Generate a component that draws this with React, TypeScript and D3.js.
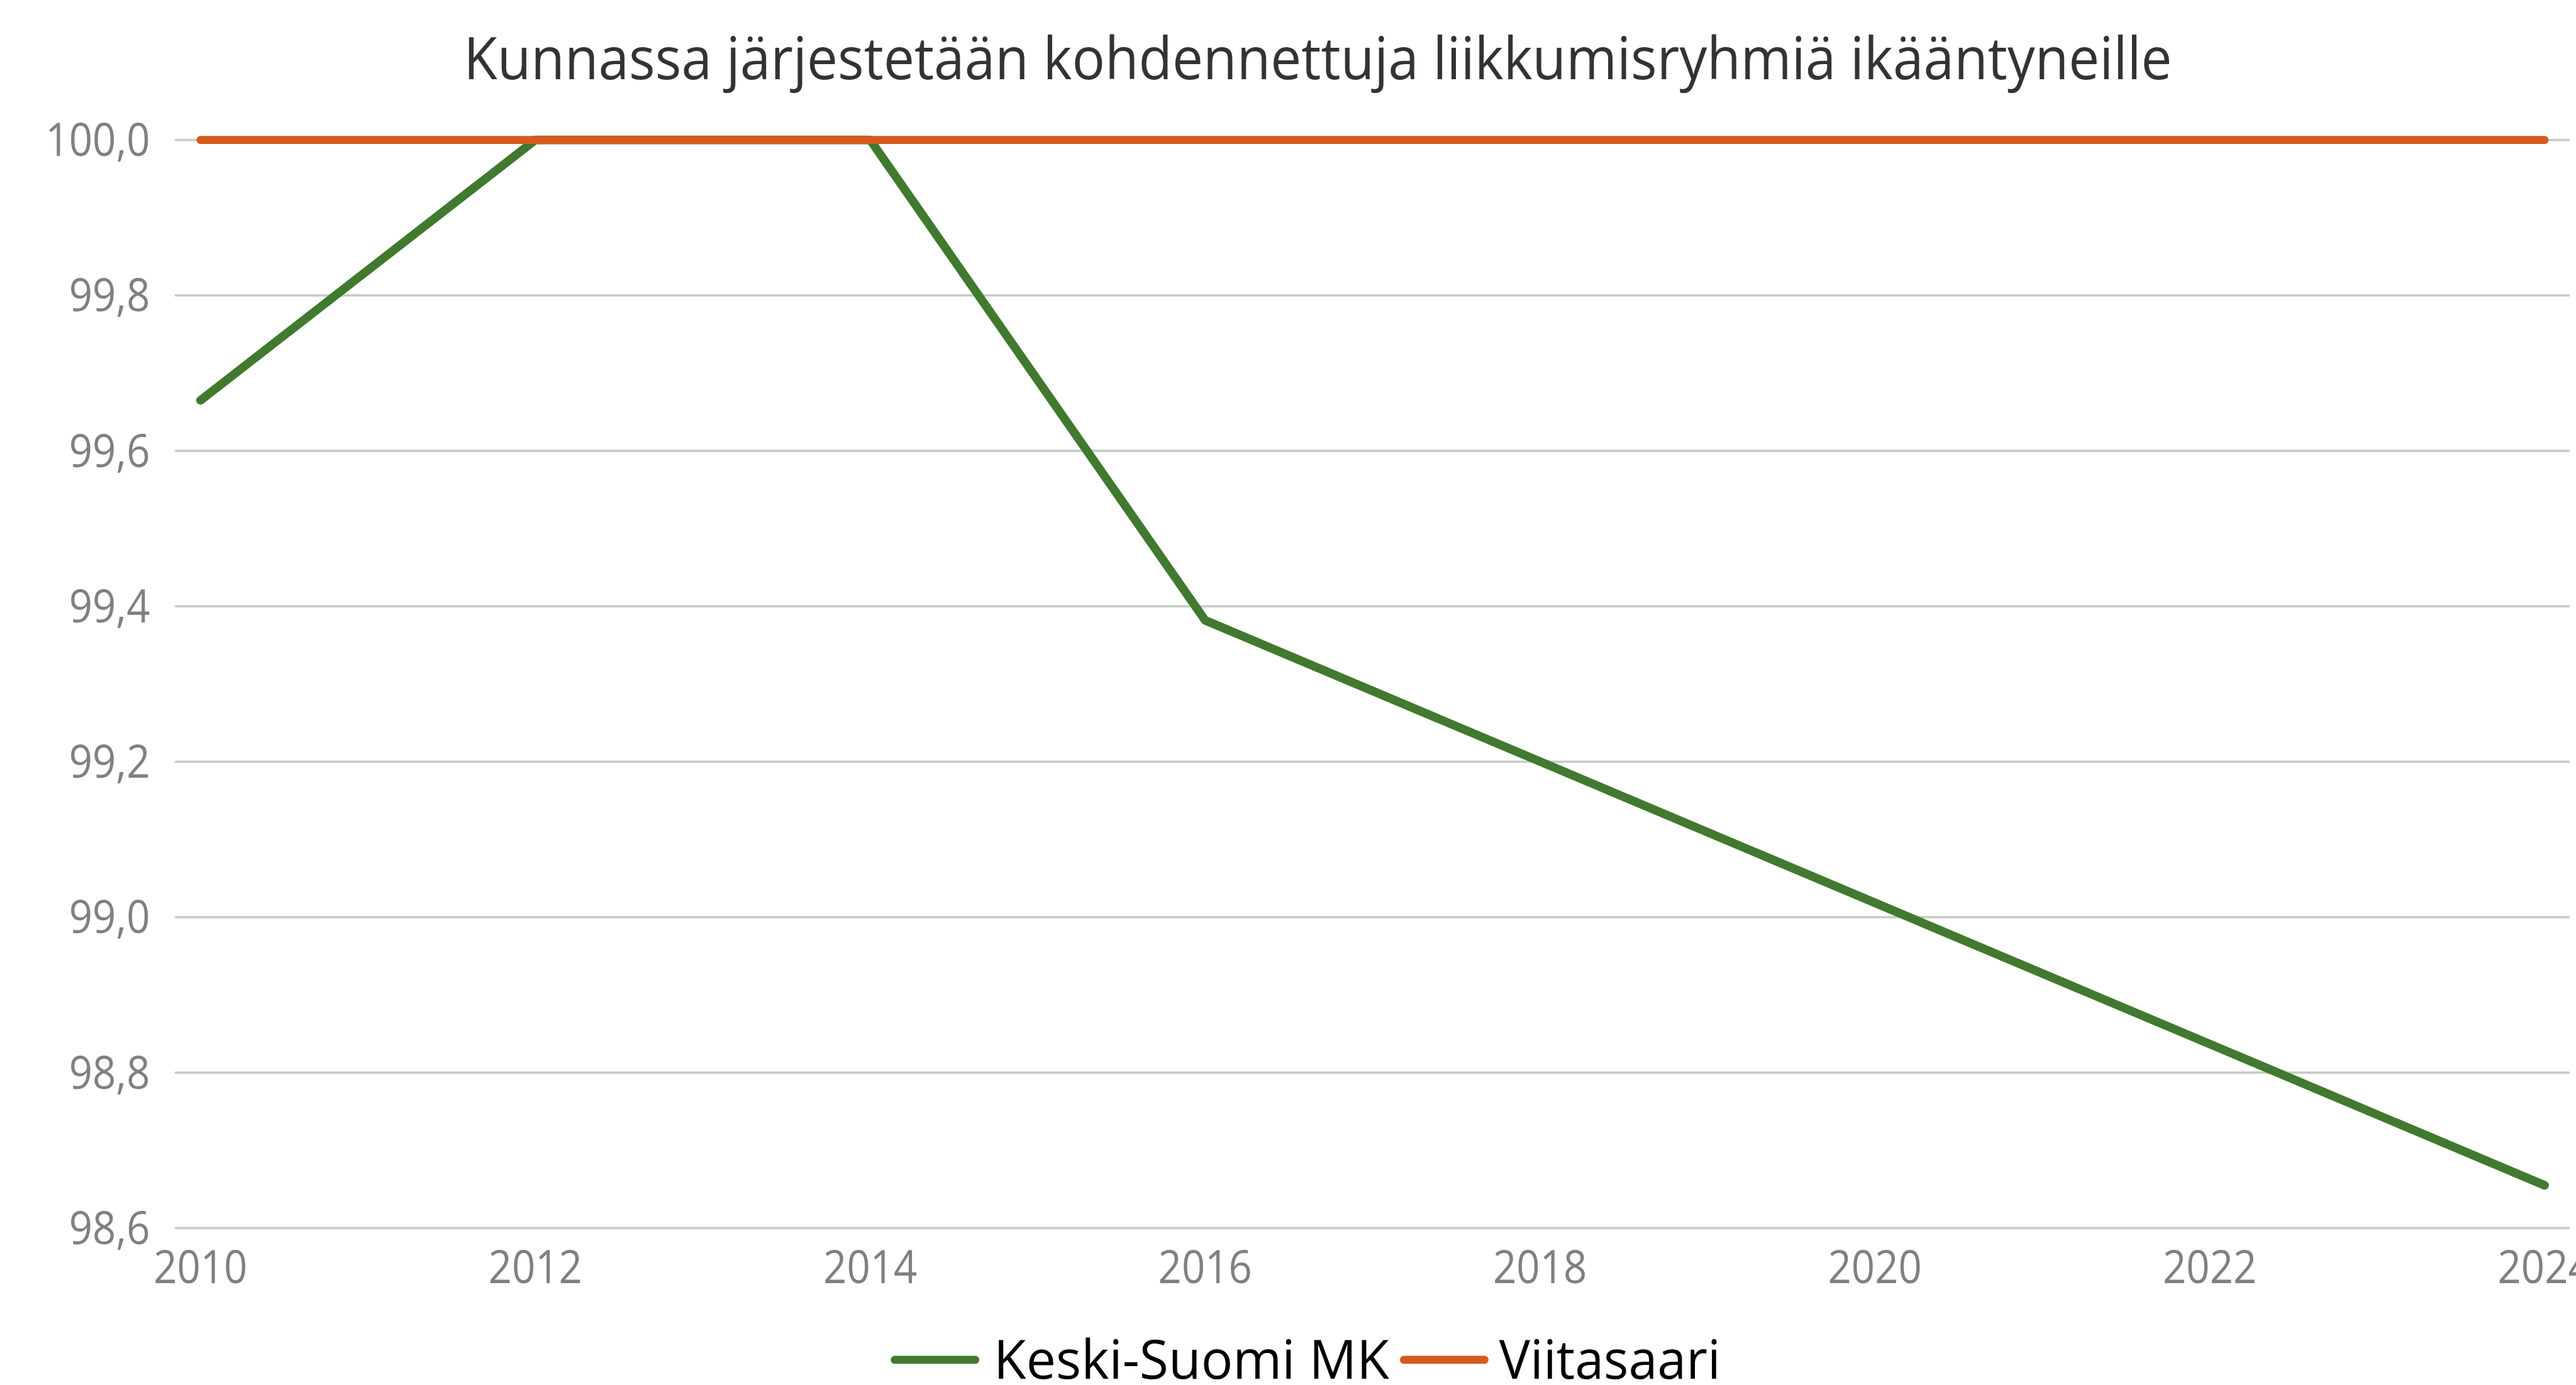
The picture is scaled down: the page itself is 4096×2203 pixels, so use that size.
import React from "react";
import * as d3 from "d3";

// ---- data ----
const TITLE = "Kunnassa järjestetään kohdennettuja liikkumisryhmiä ikääntyneille";
const keskiYears = [2010, 2012, 2014, 2016, 2024];
const keskiValues = [99.665, 100.0, 100.0, 99.382, 98.655];
const viitaYears = [2010, 2012, 2014, 2016, 2024];
const viitaValues = [100.0, 100.0, 100.0, 100.0, 100.0];
const seriesNames = ["Keski-Suomi MK", "Viitasaari"];
const seriesColors = ["#41792F", "#D55B1A"];
const xTickValues = [2010, 2012, 2014, 2016, 2018, 2020, 2022, 2024];
const yTickValues = [98.6, 98.8, 99.0, 99.2, 99.4, 99.6, 99.8, 100.0];

// ---- layout (reference coordinates, scaled via viewBox) ----
const W = 4189;
const H = 2253;
const plotLeft = 286;
const plotRight = 4177;

export default function App() {
  const x = d3.scaleLinear().domain([2010, 2024]).range([326, 4138]);
  const y = d3.scaleLinear().domain([98.6, 100]).range([1997.7, 227.7]);
  const fmt = (v: number) => d3.format(".1f")(v).replace(".", ",");

  const line = d3
    .line<[number, number]>()
    .x((d) => x(d[0]))
    .y((d) => y(d[1]));

  const keski: [number, number][] = keskiYears.map((yr, i) => [yr, keskiValues[i]]);
  const viita: [number, number][] = viitaYears.map((yr, i) => [yr, viitaValues[i]]);

  const font = "'Open Sans', 'Noto Sans', sans-serif";
  const squeeze = 0.89;

  const legendItems = [
    { name: seriesNames[0], color: seriesColors[0], x1: 1455, x2: 1586, tx: 1616, tl: 643 },
    { name: seriesNames[1], color: seriesColors[1], x1: 2283, x2: 2414, tx: 2438, tl: 360 },
  ];

  return (
    <svg
      width={4096}
      height={2203}
      viewBox={`0 0 ${W} ${H}`}
      style={{ position: "absolute", left: 0, top: 0, display: "block", background: "#fff" }}
    >
      <rect x={0} y={0} width={W} height={H} fill="#fff" />
      <text
        x={754}
        y={128.6}
        fontFamily={font}
        fontSize={96}
        fill="#333333"
        textLength={2778}
        lengthAdjust="spacingAndGlyphs"
      >
        {TITLE}
      </text>

      {/* grid */}
      {yTickValues.map((v) => (
        <line
          key={"g" + v}
          x1={plotLeft}
          x2={plotRight}
          y1={y(v)}
          y2={y(v)}
          stroke="#C6CCC6"
          strokeWidth={4}
          strokeLinecap="round"
        />
      ))}

      {/* y tick labels */}
      {yTickValues.map((v) => (
        <text
          key={"yl" + v}
          transform={`translate(244, ${y(v) + 26}) scale(${squeeze},1)`}
          textAnchor="end"
          fontFamily={font}
          fontSize={75}
          fill="#808080"
        >
          {fmt(v)}
        </text>
      ))}

      {/* x tick labels */}
      {xTickValues.map((v) => (
        <text
          key={"xl" + v}
          transform={`translate(${x(v)}, 2087) scale(${squeeze},1)`}
          textAnchor="middle"
          fontFamily={font}
          fontSize={75}
          fill="#808080"
        >
          {String(v)}
        </text>
      ))}

      {/* series */}
      <path
        d={line(keski) || ""}
        fill="none"
        stroke={seriesColors[0]}
        strokeWidth={14}
        strokeLinecap="round"
        strokeLinejoin="round"
      />
      <path
        d={line(viita) || ""}
        fill="none"
        stroke={seriesColors[1]}
        strokeWidth={13}
        strokeLinecap="round"
        strokeLinejoin="round"
      />

      {/* legend */}
      {legendItems.map((it) => (
        <g key={it.name}>
          <line
            x1={it.x1}
            x2={it.x2}
            y1={2212}
            y2={2212}
            stroke={it.color}
            strokeWidth={13}
            strokeLinecap="round"
          />
          <text
            x={it.tx}
            y={2243}
            fontFamily={font}
            fontSize={88}
            fill="#000"
            textLength={it.tl}
            lengthAdjust="spacingAndGlyphs"
          >
            {it.name}
          </text>
        </g>
      ))}
    </svg>
  );
}
